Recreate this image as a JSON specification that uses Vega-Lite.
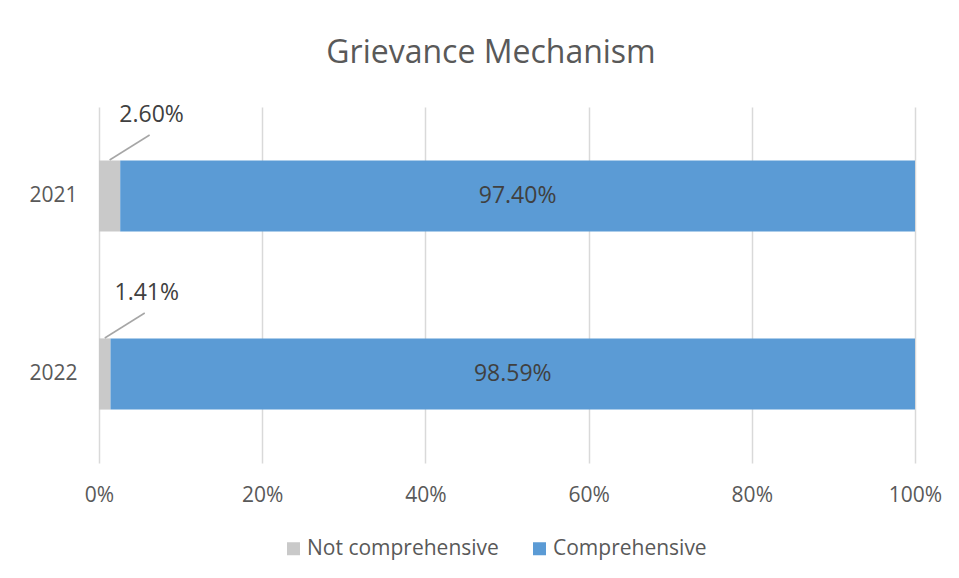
{
  "$schema": "https://vega.github.io/schema/vega-lite/v6.json",
  "width": 816,
  "height": 356,
  "autosize": {"type": "none"},
  "padding": {"left": 99, "top": 107, "right": 44, "bottom": 115},
  "background": "white",
  "config": {"view": {"stroke": null}, "font": "Open Sans"},
  "title": {"text": "Grievance Mechanism", "fontSize": 32, "font": "Open Sans", "fontWeight": "normal", "color": "#595959", "dx": -16, "offset": 34, "anchor": "middle"},
  "data": {"values": [
    {"year": "2021", "category": "Not comprehensive", "order": 1, "value": 0.026},
    {"year": "2021", "category": "Comprehensive", "order": 2, "value": 0.974},
    {"year": "2022", "category": "Not comprehensive", "order": 1, "value": 0.0141},
    {"year": "2022", "category": "Comprehensive", "order": 2, "value": 0.9859}
  ]},
  "transform": [
    {"stack": "value", "groupby": ["year"], "sort": [{"field": "order"}], "as": ["v0", "v1"]},
    {"calculate": "(datum.v0 + datum.v1) / 2", "as": "mid"}
  ],
  "encoding": {
    "y": {"field": "year", "type": "nominal", "sort": ["2021", "2022"],
      "scale": {"paddingInner": 0.6, "paddingOuter": 0.3},
      "axis": {"title": null, "domain": false, "ticks": false, "labelFontSize": 21, "labelFont": "Open Sans", "labelColor": "#595959", "labelPadding": 22}}
  },
  "layer": [
    {
      "mark": {"type": "bar"},
      "encoding": {
        "x": {"field": "v0", "type": "quantitative", "scale": {"domain": [0, 1]},
          "axis": {"title": null, "format": ".0%", "values": [0, 0.2, 0.4, 0.6, 0.8, 1], "domain": false, "ticks": false, "grid": true, "gridColor": "#D9D9D9", "gridWidth": 1.5, "labelFlush": false, "labelFontSize": 21, "labelFont": "Open Sans", "labelColor": "#595959", "labelPadding": 21}},
        "x2": {"field": "v1"},
        "color": {"field": "category", "type": "nominal",
          "scale": {"domain": ["Not comprehensive", "Comprehensive"], "range": ["#C9C9C9", "#5B9BD5"]},
          "legend": {"title": null, "orient": "none", "legendX": 184, "legendY": 431, "direction": "horizontal", "symbolType": "square", "symbolSize": 169, "symbolStrokeWidth": 0, "labelFontSize": 21, "labelFont": "Open Sans", "labelColor": "#595959", "labelOffset": 3, "labelLimit": 0, "columnPadding": 30}}
      }
    },
    {
      "transform": [{"filter": "datum.category == 'Comprehensive'"}],
      "mark": {"type": "text", "font": "Open Sans", "fontSize": 23, "color": "#404040"},
      "encoding": {
        "x": {"field": "mid", "type": "quantitative"},
        "text": {"field": "value", "type": "quantitative", "format": ".2%"}
      }
    },
    {
      "transform": [{"filter": "datum.category == 'Not comprehensive'"}],
      "mark": {"type": "rule", "color": "#A6A6A6", "strokeWidth": 1.5, "yOffset": -36, "y2Offset": -61, "x2Offset": 40},
      "encoding": {
        "x": {"field": "mid", "type": "quantitative"},
        "x2": {"field": "mid"},
        "y2": {"field": "year"}
      }
    },
    {
      "transform": [{"filter": "datum.category == 'Not comprehensive'"}],
      "mark": {"type": "text", "font": "Open Sans", "fontSize": 23, "color": "#404040", "dx": 42, "dy": -81},
      "encoding": {
        "x": {"field": "mid", "type": "quantitative"},
        "text": {"field": "value", "type": "quantitative", "format": ".2%"}
      }
    }
  ]
}
